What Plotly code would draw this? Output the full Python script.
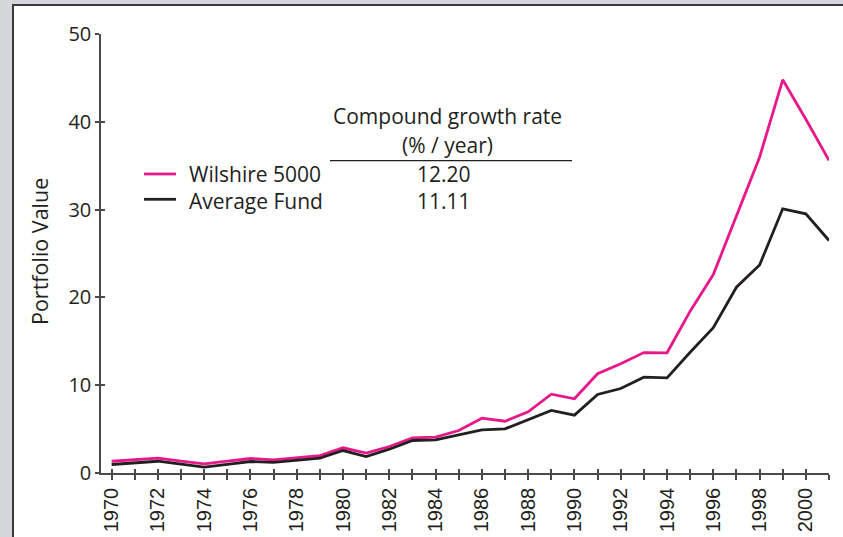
import plotly.graph_objects as go

# ---------------- data ----------------
years = list(range(1970, 2002))
wilshire = [1.34, 1.50, 1.69, 1.34, 1.05, 1.34, 1.65, 1.50, 1.73, 1.99,
            2.87, 2.26, 3.02, 4.01, 4.08, 4.84, 6.24, 5.90, 6.97, 8.97,
            8.45, 11.30, 12.44, 13.72, 13.69, 18.43, 22.60, 29.30, 35.97, 44.78,
            40.30, 35.60]
avg_fund = [0.97, 1.12, 1.34, 1.00, 0.66, 0.97, 1.31, 1.20, 1.42, 1.69,
            2.56, 1.88, 2.71, 3.70, 3.78, 4.33, 4.92, 5.03, 6.04, 7.12,
            6.59, 8.94, 9.62, 10.91, 10.84, 13.76, 16.54, 21.16, 23.69, 30.09,
            29.52, 26.48]
series_names = ["Wilshire 5000", "Average Fund"]
growth_rates = ["12.20", "11.11"]
xtick_vals = years
xtick_text = [str(y) if y % 2 == 0 else "" for y in years]
ytick_vals = [0, 10, 20, 30, 40, 50]

PINK = "#e8178a"
DARK = "#231f20"
AXIS = "#4a4a4a"
W, H = 843, 537
ML, MR, MT, MB = 101, 14, 34, 64
PW, PH = W - ML - MR, H - MT - MB

def xp(px):
    return (px - ML) / PW

def yp(py):
    return (H - MB - py) / PH

fig = go.Figure()
fig.add_trace(go.Scatter(x=years, y=wilshire, mode="lines", name=series_names[0],
                         line=dict(color=PINK, width=2.8), showlegend=False))
fig.add_trace(go.Scatter(x=years, y=avg_fund, mode="lines", name=series_names[1],
                         line=dict(color=DARK, width=2.8), showlegend=False))
# empty trace to host the overlay axes (inner half of crossing ticks)
fig.add_trace(go.Scatter(x=[], y=[], xaxis="x2", yaxis="y2", showlegend=False,
                         hoverinfo="skip"))

xrange = [1969.54, 2001.0]
yrange = [0, 50]

fig.update_layout(
    width=W, height=H,
    margin=dict(l=ML, r=MR, t=MT, b=MB, pad=0, autoexpand=False),
    paper_bgcolor="#d5d6da",
    plot_bgcolor="rgba(0,0,0,0)",
    xaxis=dict(range=xrange, tickvals=xtick_vals, ticktext=xtick_text,
               tickangle=-90, ticks="outside", ticklen=5, tickwidth=1.5,
               tickcolor=AXIS, showline=True, linecolor=AXIS, linewidth=1.5,
               showgrid=False, zeroline=False, automargin=False,
               tickfont=dict(family="Liberation Sans", size=20, color=DARK)),
    yaxis=dict(range=yrange, tickvals=ytick_vals, ticks="outside", ticklen=4,
               tickwidth=1.5, tickcolor=AXIS, showline=True, linecolor=AXIS,
               linewidth=1.5, showgrid=False, zeroline=False, automargin=False,
               tickfont=dict(family="Open Sans", size=20, color=DARK)),
    xaxis2=dict(range=xrange, overlaying="x", anchor="y2", tickvals=xtick_vals,
                ticks="inside", ticklen=4, tickwidth=1.5, tickcolor=AXIS,
                showticklabels=False, showline=False, showgrid=False,
                zeroline=False, side="bottom", automargin=False),
    yaxis2=dict(range=yrange, overlaying="y", anchor="x2", tickvals=ytick_vals,
                ticks="inside", ticklen=4, tickwidth=1.5, tickcolor=AXIS,
                showticklabels=False, showline=False, showgrid=False,
                zeroline=False, side="left", automargin=False),
    showlegend=False,
)

shapes = [
    # white panel with dark border
    dict(type="rect", xref="paper", yref="paper", layer="below",
         x0=xp(13), x1=xp(W + 20), y0=yp(H + 20), y1=yp(5),
         fillcolor="white", line=dict(color="#3a3a3a", width=2)),
    # rule under table header
    dict(type="line", xref="paper", yref="paper",
         x0=xp(330), x1=xp(572), y0=yp(160.7), y1=yp(160.7),
         line=dict(color=DARK, width=1.3)),
    # legend samples
    dict(type="line", xref="paper", yref="paper",
         x0=xp(144), x1=xp(176), y0=yp(174), y1=yp(174),
         line=dict(color=PINK, width=2.8)),
    dict(type="line", xref="paper", yref="paper",
         x0=xp(144), x1=xp(176), y0=yp(199.3), y1=yp(199.3),
         line=dict(color=DARK, width=2.8)),
]
fig.update_layout(shapes=shapes)

TF = dict(family="Open Sans", size=21, color=DARK)

def ann(text, px, py, xanchor="center", align="center", **kw):
    return dict(text=text, x=xp(px), y=yp(py), xref="paper", yref="paper",
                xanchor=xanchor, yanchor="middle", align=align, showarrow=False,
                font=TF, borderpad=0, **kw)

annotations = [
    ann("Compound growth rate", 447.5, 116),
    ann("(% / year)", 447, 145),
    ann("<br>".join(series_names), 188, 187.5, xanchor="left", align="left"),
    ann("<br>".join(growth_rates), 444, 187.5),
    dict(text="Portfolio Value", x=xp(40), y=yp(252), xref="paper", yref="paper",
         xanchor="center", yanchor="middle", showarrow=False, textangle=-90,
         font=dict(family="Open Sans", size=21.5, color=DARK)),
]
fig.update_layout(annotations=annotations)

fig.write_html(
    "out.html",
    config={"displayModeBar": False},
    post_script="document.body.style.margin='0';document.body.style.overflow='hidden';",
)
